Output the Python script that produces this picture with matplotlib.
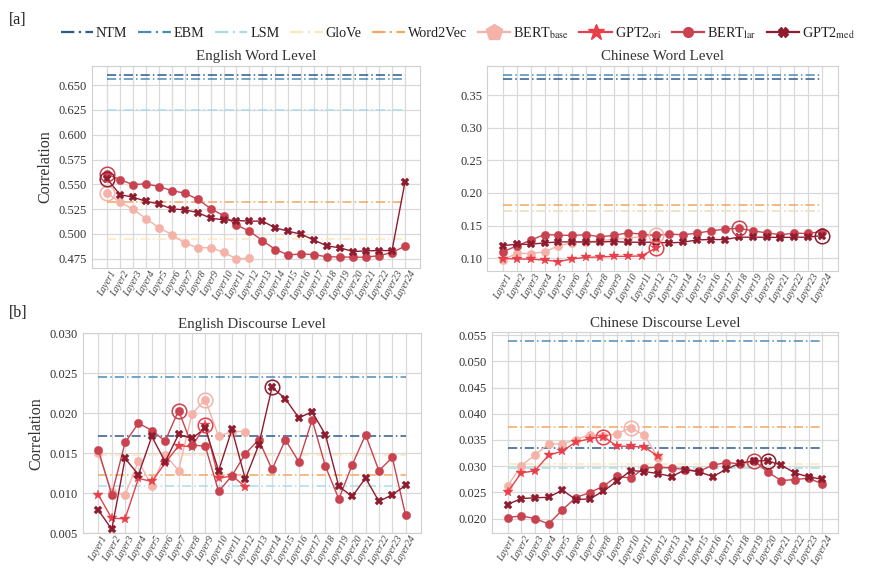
import numpy as np
import matplotlib
matplotlib.use("Agg")
import matplotlib.pyplot as plt
from matplotlib.lines import Line2D
from matplotlib.ticker import MultipleLocator, FormatStrFormatter

plt.rcParams["font.family"] = ["Liberation Serif", "DejaVu Serif"]
plt.rcParams["mathtext.fontset"] = "stix"

layers = [f"Layer{i}" for i in range(1, 25)]

# baseline correlations (NTM, EBM, LSM, GloVe, Word2Vec)
en_word_base = [0.6601, 0.6567, 0.6248, 0.4945, 0.5322]
zh_word_base = [0.3741, 0.3802, 0.1722, 0.1722, 0.1820]
en_disc_base = [0.01708, 0.02458, 0.01092, 0.01479, 0.01225]
zh_disc_base = [0.03355, 0.05385, 0.02967, 0.03044, 0.03744]

# English word level
en_word_bert_base = [0.5413, 0.532, 0.525, 0.5154, 0.5063, 0.4993, 0.4908, 0.4858,
                     0.486, 0.4814, 0.4747, 0.4754]
en_word_gpt2_ori = []
en_word_bert_lar = [0.5603, 0.5548, 0.5497, 0.5504, 0.5477, 0.5437, 0.541, 0.535,
                    0.5255, 0.5184, 0.509, 0.5026, 0.4932, 0.4841, 0.4787, 0.4797,
                    0.479, 0.4767, 0.4767, 0.4764, 0.4764, 0.478, 0.4811, 0.4875]
en_word_gpt2_med = [0.5558, 0.5396, 0.537, 0.5329, 0.5302, 0.5252, 0.5242, 0.5215,
                    0.5158, 0.5141, 0.5134, 0.5128, 0.5128, 0.506, 0.5026, 0.4996,
                    0.4935, 0.4878, 0.4858, 0.4821, 0.4828, 0.4831, 0.4831, 0.5521]

# Chinese word level
zh_word_bert_base = [0.097, 0.108, 0.107, 0.110, 0.119, 0.124, 0.125, 0.127,
                     0.129, 0.131, 0.133, 0.136]
zh_word_gpt2_ori = [0.0995, 0.099, 0.0985, 0.0974, 0.0949, 0.099, 0.1015, 0.102,
                    0.103, 0.103, 0.1036, 0.1154]
zh_word_bert_lar = [0.110, 0.119, 0.1277, 0.1364, 0.1354, 0.135, 0.136, 0.133,
                    0.135, 0.139, 0.137, 0.135, 0.137, 0.136, 0.1385, 0.142,
                    0.1446, 0.146, 0.142, 0.139, 0.136, 0.1385, 0.138, 0.141]
zh_word_gpt2_med = [0.1195, 0.1215, 0.1215, 0.1236, 0.1251, 0.1251, 0.1251, 0.1251,
                    0.1256, 0.1246, 0.1246, 0.1246, 0.1236, 0.1246, 0.1282, 0.1287,
                    0.1287, 0.1323, 0.1323, 0.1323, 0.1318, 0.1323, 0.1323, 0.1348]

# English discourse level
en_disc_bert_base = [0.0150, 0.0101, 0.00979, 0.0140, 0.0109, 0.0148, 0.0128, 0.0199,
                     0.0217, 0.0171, 0.0177, 0.0177]
en_disc_gpt2_ori = [0.00979, 0.00683, 0.0068, 0.01183, 0.01146, 0.01375, 0.01592,
                    0.0158, 0.01854, 0.01183, 0.01217, 0.01079]
en_disc_bert_lar = [0.01538, 0.00979, 0.01633, 0.01875, 0.01783, 0.0165, 0.02033,
                    0.0160, 0.01588, 0.01021, 0.01217, 0.01492, 0.01667, 0.01296,
                    0.01667, 0.01392, 0.01917, 0.01333, 0.00925, 0.01354, 0.01729,
                    0.01279, 0.01446, 0.00721]
en_disc_gpt2_med = [0.00787, 0.00546, 0.01433, 0.0123, 0.01708, 0.01392, 0.01733,
                    0.01683, 0.01813, 0.01279, 0.01796, 0.01175, 0.0160, 0.02325,
                    0.02179, 0.01942, 0.02017, 0.01729, 0.01083, 0.00958, 0.01188,
                    0.00896, 0.00979, 0.01096]

# Chinese discourse level
zh_disc_bert_base = [0.02617, 0.03012, 0.0321, 0.03425, 0.03425, 0.03508, 0.03604,
                     0.0357, 0.03623, 0.0373, 0.0359, 0.0316]
zh_disc_gpt2_ori = [0.02502, 0.02872, 0.0291, 0.0321, 0.03285, 0.03464, 0.0352,
                    0.03565, 0.03381, 0.03381, 0.03362, 0.0319]
zh_disc_bert_lar = [0.02019, 0.0205, 0.020, 0.01898, 0.02165, 0.02401, 0.02496,
                    0.02617, 0.02808, 0.0277, 0.02967, 0.0298, 0.02967, 0.02935,
                    0.02903, 0.03018, 0.03069, 0.03044, 0.03107, 0.0289, 0.02725,
                    0.02744, 0.0277, 0.02662]
zh_disc_gpt2_med = [0.02267, 0.02382, 0.02395, 0.02407, 0.02541, 0.02363, 0.02375,
                    0.02522, 0.02713, 0.02916, 0.02897, 0.02859, 0.02802, 0.02935,
                    0.0289, 0.02802, 0.02942, 0.03062, 0.03100, 0.03105, 0.03018,
                    0.02872, 0.02795, 0.0275]

base_names = ["NTM", "EBM", "LSM", "GloVe", "Word2Vec"]
base_colors = ["#2e5a8c", "#4c8cb8", "#a9dbea", "#fde5bd", "#f3a760"]
model_names = [r"BERT$_{\mathrm{base}}$", r"GPT2$_{\mathrm{ori}}$",
               r"BERT$_{\mathrm{lar}}$", r"GPT2$_{\mathrm{med}}$"]
model_colors = ["#f4b2a8", "#e8404a", "#c8434f", "#8e1c2e"]
model_markers = ["o", "*", "o", "X"]
model_msize = [6, 7.5, 6, 5.5]

panels = [
    ("English Word Level", en_word_base,
     [en_word_bert_base, en_word_gpt2_ori, en_word_bert_lar, en_word_gpt2_med], None),
    ("Chinese Word Level", zh_word_base,
     [zh_word_bert_base, zh_word_gpt2_ori, zh_word_bert_lar, zh_word_gpt2_med], None),
    ("English Discourse Level", en_disc_base,
     [en_disc_bert_base, en_disc_gpt2_ori, en_disc_bert_lar, en_disc_gpt2_med], (0.005, 0.030)),
    ("Chinese Discourse Level", zh_disc_base,
     [zh_disc_bert_base, zh_disc_gpt2_ori, zh_disc_bert_lar, zh_disc_gpt2_med], None),
]

rects = [
    [0.1055, 0.533, 0.376, 0.352],
    [0.5585, 0.528, 0.4025, 0.357],
    [0.0952, 0.0714, 0.3876, 0.348],
    [0.564, 0.0714, 0.397, 0.350],
]
yfmt = ["%.3f", "%.2f", "%.3f", "%.3f"]
ystep = [0.025, 0.05, 0.005, 0.005]

fig = plt.figure(figsize=(8.72, 5.74), dpi=100)

for k, (title, base, series, ylim) in enumerate(panels):
    ax = fig.add_axes(rects[k])
    x = np.arange(len(layers))
    for name, val, col in zip(base_names, base, base_colors):
        ax.plot(x, np.full(len(x), val), color=col, linestyle=(0, (6, 2, 1, 2)),
                linewidth=1.1, zorder=2)
    for vals, col, mk, ms in zip(series, model_colors, model_markers, model_msize):
        if len(vals) == 0:
            continue
        xs = np.arange(len(vals))
        ax.plot(xs, vals, color=col, marker=mk, markersize=ms, linewidth=1.0,
                markeredgewidth=0.3, markeredgecolor=col, zorder=3)
        # hollow ring on each series' best layer
        best = int(np.argmax(vals))
        ax.plot(best, vals[best], marker="o", markersize=10.5, markerfacecolor="none",
                markeredgecolor=col, markeredgewidth=1.1, zorder=4)
    ax.set_xticks(x)
    ax.set_xticklabels(layers, rotation=60, fontsize=7, style="italic", color="#444444")
    ax.tick_params(axis="y", labelsize=9, length=0, colors="#333333")
    ax.tick_params(axis="x", length=0, pad=1)
    ax.yaxis.set_major_locator(MultipleLocator(ystep[k]))
    ax.yaxis.set_major_formatter(FormatStrFormatter(yfmt[k]))
    if ylim is not None:
        ax.set_ylim(*ylim)
    ax.grid(True, color="#d9d9d9", linewidth=0.9)
    ax.set_axisbelow(True)
    for sp in ax.spines.values():
        sp.set_color("#d0d0d0")
    ax.set_title(title, fontsize=10.8, pad=4, color="#333333")
    if k in (0, 2):
        ax.set_ylabel("Correlation", fontsize=11.5, color="#333333", labelpad=4)

handles = []
for name, col in zip(base_names, base_colors):
    handles.append(Line2D([], [], color=col, linestyle=(0, (6, 2, 1, 2)), linewidth=1.6))
leg_markers = ["p", "*", "o", "X"]
leg_ms = [12, 12, 7, 7]
for col, mk, ms in zip(model_colors, leg_markers, leg_ms):
    handles.append(Line2D([], [], color=col, marker=mk, markersize=ms, linewidth=1.6))
fig.legend(handles, base_names + model_names, loc="center", bbox_to_anchor=(0.525, 0.942),
           ncol=9, frameon=False, fontsize=10.2, handlelength=2.3, handletextpad=0.2,
           columnspacing=0.75, labelcolor="#222222")

fig.text(0.01, 0.965, "[a]", fontsize=11.5, color="#222222", va="center")
fig.text(0.01, 0.455, "[b]", fontsize=11.5, color="#222222", va="center")

fig.savefig("out.png", dpi=100)
